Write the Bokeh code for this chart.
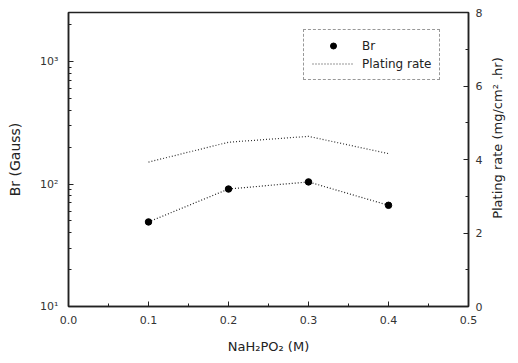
import math
from bokeh.plotting import figure
from bokeh.layouts import row
from bokeh.models import (Range1d, LinearAxis, LinearScale, FixedTicker,
                          Legend, LegendItem)
from bokeh.core.properties import value
from bokeh.embed import file_html
from bokeh.resources import INLINE

# NaH2PO2 concentration (M)
conc = [0.1, 0.2, 0.3, 0.4]
# Remanence Br (Gauss)
br = [49, 91, 104, 67]
# Plating rate (mg/cm^2.hr)
rate = [3.93, 4.47, 4.63, 4.16]

x_ticks = [0.0, 0.1, 0.2, 0.3, 0.4, 0.5]
left_ticks = [10, 100, 1000]
left_labels = {10: "10¹", 100: "10²", 1000: "10³"}
right_ticks = [0, 2, 4, 6, 8]
right_title = "Plating rate (mg/cm² .hr)"

FONT = "DejaVu Sans"
H = 363

p = figure(width=490, height=H, output_backend="svg", toolbar_location=None,
           y_axis_type="log", x_range=Range1d(0.0, 0.5),
           y_range=Range1d(10, 10 ** 3.4),
           min_border_left=68, min_border_right=22,
           min_border_top=12, min_border_bottom=57)
p.frame_width = 400
p.frame_height = 294
p.background_fill_color = "white"
p.border_fill_color = "white"
p.grid.visible = False
p.outline_line_color = "#222222"
p.outline_line_width = 1.5

# right-hand linear axis for the plating rate
p.extra_y_ranges = {"rate": Range1d(0, 8)}
p.extra_y_scales = {"rate": LinearScale()}
raxis = LinearAxis(y_range_name="rate")
p.add_layout(raxis, "right")

# axis styling
minor_log = [m * 10 ** d for d in (1, 2, 3) for m in range(2, 10)]
p.xaxis.ticker = FixedTicker(ticks=x_ticks,
                             minor_ticks=[0.05, 0.15, 0.25, 0.35, 0.45])
p.xaxis.major_label_overrides = {t: f"{t:.1f}" for t in x_ticks}
p.yaxis[0].ticker = FixedTicker(ticks=left_ticks, minor_ticks=minor_log)
p.yaxis[0].major_label_overrides = left_labels
raxis.ticker = FixedTicker(ticks=right_ticks, minor_ticks=[1, 3, 5, 7])

for ax in p.axis:
    ax.major_tick_in = 5
    ax.major_tick_out = 0
    ax.minor_tick_in = 3
    ax.minor_tick_out = 0
    ax.axis_line_color = "#222222"
    ax.axis_line_width = 1.5
    ax.major_tick_line_color = "#222222"
    ax.minor_tick_line_color = "#222222"
    ax.major_label_text_font = FONT
    ax.major_label_text_font_size = "11px"
    ax.major_label_text_color = "#333333"
    ax.axis_label_text_font = FONT
    ax.axis_label_text_font_size = "13px"
    ax.axis_label_text_font_style = "normal"
    ax.axis_label_text_color = "#222222"
    ax.major_label_standoff = 7

p.xaxis.major_label_standoff = 9
p.yaxis[0].major_label_standoff = 10
p.xaxis.axis_label = "NaH₂PO₂ (M)"
p.xaxis.axis_label_standoff = 12
p.yaxis[0].axis_label = "Br (Gauss)"
p.yaxis[0].axis_label_text_font_size = "14px"
p.yaxis[0].axis_label_standoff = 14

# Br: dotted connecting line with filled circles
p.line(conc, br, line_color="#222222", line_width=1.2, line_dash="1 2")
br_pts = p.scatter(conc, br, size=6.5, marker="circle",
                   fill_color="black", line_color="black")

# Plating rate: dotted line on the right axis
rate_line = p.line(conc, rate, y_range_name="rate", line_color="#333333",
                   line_width=1.2, line_dash="1 2")

legend = Legend(items=[LegendItem(label="Br", renderers=[br_pts]),
                       LegendItem(label="Plating rate", renderers=[rate_line])],
                location=(235, 226))
legend.border_line_color = "#333333"
legend.border_line_dash = "1 1"
legend.border_line_width = 1
legend.label_text_font = FONT
legend.label_text_font_size = "12px"
legend.label_text_color = "#222222"
legend.glyph_width = 42
legend.glyph_height = 15
legend.label_height = 15
legend.label_standoff = 8
legend.spacing = 3
legend.padding = 8
legend.margin = 0
legend.background_fill_alpha = 0
p.add_layout(legend, "center")

# narrow strip on the right carrying the plating-rate axis title (bottom to top)
side = figure(width=28, height=H, output_backend="svg", toolbar_location=None,
              x_range=Range1d(0, 28), y_range=Range1d(0, H),
              min_border=0)
side.axis.visible = False
side.grid.visible = False
side.outline_line_color = None
side.background_fill_color = "white"
side.border_fill_color = "white"
side.text(x=[7], y=[H - 155], text=[right_title], angle=math.pi / 2,
          text_align="center", text_baseline="middle",
          text_font=value(FONT), text_font_size="13px", text_color="#222222")

layout = row(p, side, spacing=0)
open("out.html", "w").write(file_html(layout, INLINE))
